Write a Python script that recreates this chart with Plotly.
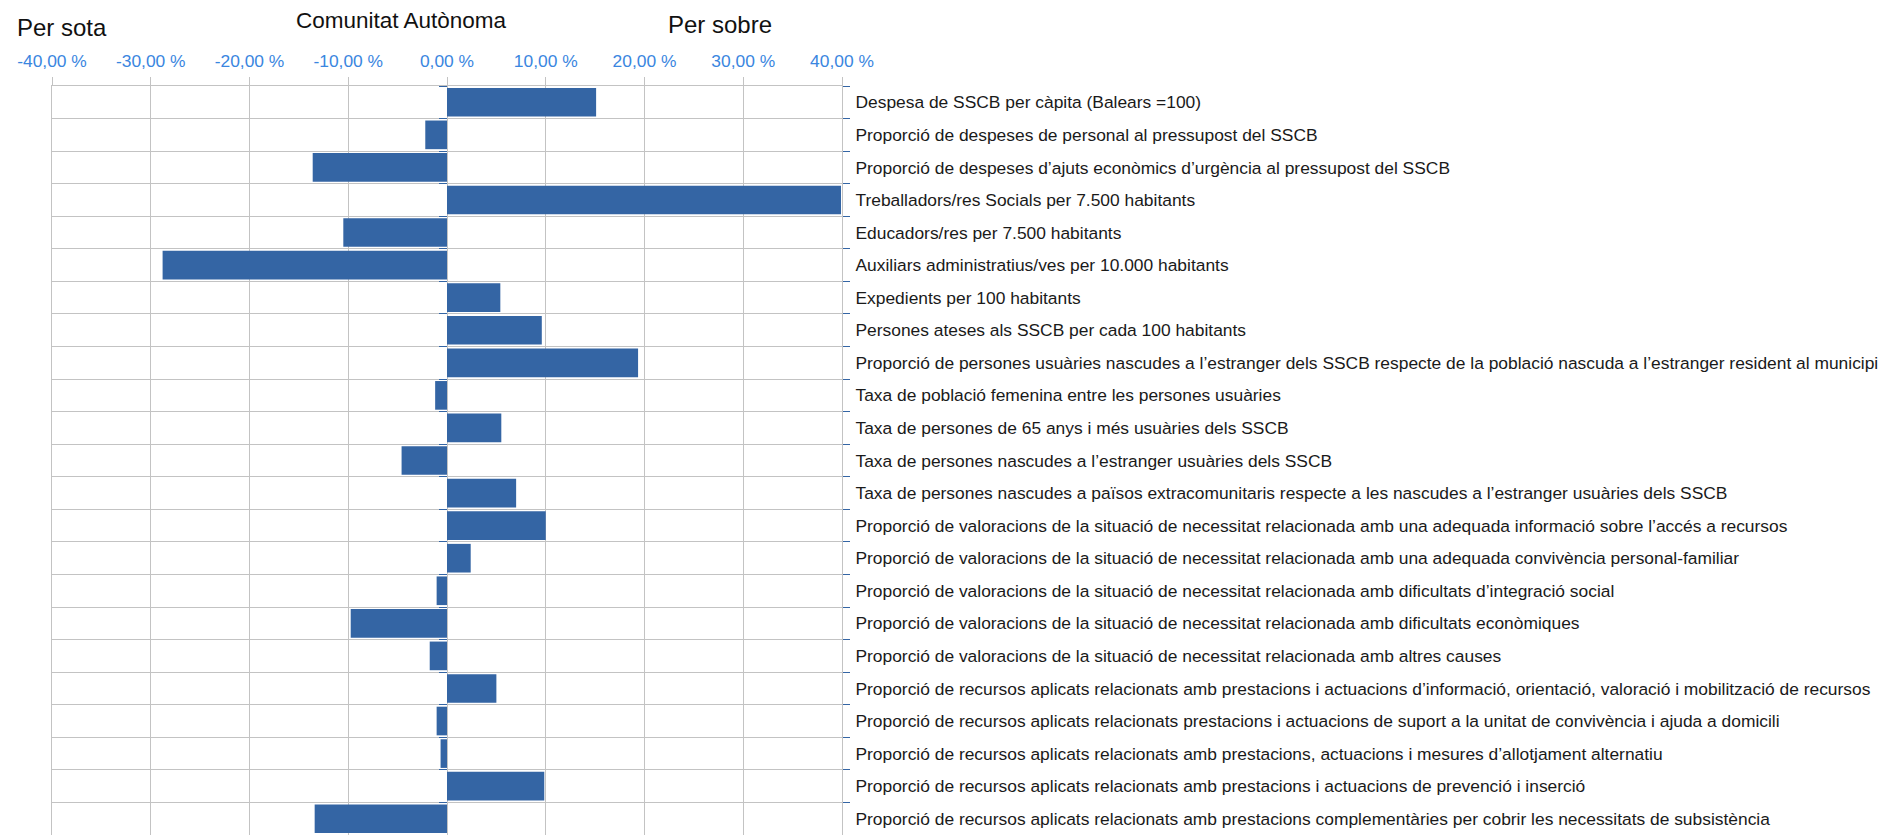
import plotly.graph_objects as go

categories = [
    "Despesa de SSCB per càpita (Balears =100)",
    "Proporció de despeses de personal al pressupost del SSCB",
    "Proporció de despeses d’ajuts econòmics d’urgència al pressupost del SSCB",
    "Treballadors/res Socials per 7.500 habitants",
    "Educadors/res per 7.500 habitants",
    "Auxiliars administratius/ves per 10.000 habitants",
    "Expedients per 100 habitants",
    "Persones ateses als SSCB per cada 100 habitants",
    "Proporció de persones usuàries nascudes a l’estranger dels SSCB respecte de la població nascuda a l’estranger resident al municipi",
    "Taxa de població femenina entre les persones usuàries",
    "Taxa de persones de 65 anys i més usuàries dels SSCB",
    "Taxa de persones nascudes a l’estranger usuàries dels SSCB",
    "Taxa de persones nascudes a països extracomunitaris respecte a les nascudes a l’estranger usuàries dels SSCB",
    "Proporció de valoracions de la situació de necessitat relacionada amb una adequada informació sobre l’accés a recursos",
    "Proporció de valoracions de la situació de necessitat relacionada amb una adequada convivència personal-familiar",
    "Proporció de valoracions de la situació de necessitat relacionada amb dificultats d’integració social",
    "Proporció de valoracions de la situació de necessitat relacionada amb dificultats econòmiques",
    "Proporció de valoracions de la situació de necessitat relacionada amb altres causes",
    "Proporció de recursos aplicats relacionats amb prestacions i actuacions d’informació, orientació, valoració i mobilització de recursos",
    "Proporció de recursos aplicats relacionats prestacions i actuacions de suport a la unitat de convivència i ajuda a domicili",
    "Proporció de recursos aplicats relacionats amb prestacions, actuacions i mesures d’allotjament alternatiu",
    "Proporció de recursos aplicats relacionats amb prestacions i actuacions de prevenció i inserció",
    "Proporció de recursos aplicats relacionats amb prestacions complementàries per cobrir les necessitats de subsistència",
]

values = [15.1, -2.2, -13.6, 39.9, -10.5, -28.8, 5.4, 9.6, 19.35, -1.2, 5.5, -4.6,
          7.0, 10.0, 2.4, -1.05, -9.75, -1.75, 5.0, -1.05, -0.65, 9.85, -13.4]

tick_values = [-40, -30, -20, -10, 0, 10, 20, 30, 40]
tick_labels = ["-40,00 %", "-30,00 %", "-20,00 %", "-10,00 %", "0,00 %",
               "10,00 %", "20,00 %", "30,00 %", "40,00 %"]

FONT = "Liberation Sans"
BAR = "#3465a4"
GRID = "#c3c3c3"
TICKBLUE = "#3a86e0"
n = len(categories)

fig = go.Figure()
fig.add_trace(go.Bar(
    x=values, y=categories, orientation="h",
    marker=dict(color=BAR, line=dict(width=0)),
    xaxis="x", yaxis="y", hoverinfo="x+y",
))
# helper trace for the category axis drawn at x = 0 (ticks only)
fig.add_trace(go.Scatter(
    x=[0] * n, y=categories, mode="none", xaxis="x", yaxis="y2",
    hoverinfo="skip", showlegend=False,
))

# the page body has an 8px default margin; the figure is sized to compensate
fig.update_layout(
    width=1891, height=827,
    margin=dict(l=44, r=1057, t=78, b=0, pad=0, autoexpand=False),
    paper_bgcolor="white", plot_bgcolor="white",
    showlegend=False,
    bargap=0.12,
    font=dict(family=FONT, color="#1a1a1a"),
    xaxis=dict(
        side="top", range=[-40, 40], automargin=False,
        tickvals=tick_values, ticktext=tick_labels,
        tickfont=dict(family=FONT, size=17.4, color=TICKBLUE),
        ticks="outside", ticklen=8, tickcolor=GRID, tickwidth=1,
        ticklabelstandoff=3,
        showgrid=True, gridcolor=GRID, gridwidth=1,
        showline=True, linecolor=GRID, linewidth=1,
        zeroline=False, fixedrange=True,
    ),
    yaxis=dict(
        type="category", categoryarray=categories, categoryorder="array",
        range=[n - 0.5, -0.5], side="right", anchor="x", automargin=False,
        tickson="boundaries", ticks="outside", ticklen=7, tickcolor=BAR, tickwidth=1,
        showgrid=True, gridcolor=GRID, gridwidth=1,
        showline=True, linecolor=GRID, linewidth=1, mirror=True,
        tickfont=dict(family=FONT, size=17.4, color="#1a1a1a"),
        ticklabelstandoff=9,
        zeroline=False, fixedrange=True,
    ),
    yaxis2=dict(
        type="category", categoryarray=categories, categoryorder="array",
        range=[n - 0.5, -0.5], overlaying="y", anchor="free", position=0.5,
        side="left", tickson="boundaries", ticks="outside", ticklen=8, automargin=False,
        tickcolor=BAR, tickwidth=1, showticklabels=False,
        showgrid=False, showline=False, zeroline=False, fixedrange=True,
    ),
    annotations=[
        dict(text="Per sota", xref="paper", yref="paper", x=-0.0468, y=1.0781,
             xanchor="left", yanchor="middle", showarrow=False,
             font=dict(family=FONT, size=24, color="#111111")),
        dict(text="Comunitat Autònoma", xref="paper", yref="paper", x=0.4418, y=1.0868,
             xanchor="center", yanchor="middle", showarrow=False,
             font=dict(family=FONT, size=22.5, color="#111111")),
        dict(text="Per sobre", xref="paper", yref="paper", x=0.8462, y=1.0818,
             xanchor="center", yanchor="middle", showarrow=False,
             font=dict(family=FONT, size=24, color="#111111")),
    ],
)

fig.write_html("out.html")
